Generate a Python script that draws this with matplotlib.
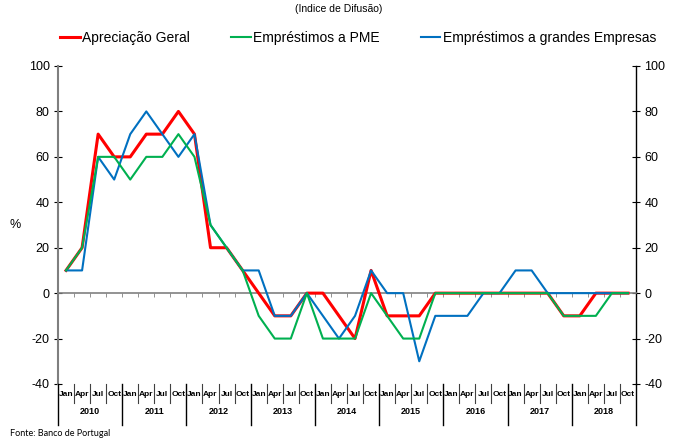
import matplotlib
matplotlib.use('Agg')
import matplotlib.pyplot as plt
import numpy as np
from matplotlib.lines import Line2D
from matplotlib.transforms import blended_transform_factory

# quarterly categories, 2010 Q1 .. 2018 Q4
YEARS = ['2010', '2011', '2012', '2013', '2014', '2015', '2016', '2017', '2018']
MONTHS = ['Jan', 'Apr', 'Jul', 'Oct']

GERAL = [10, 20, 70, 60, 60, 70, 70, 80, 70, 20, 20, 10,
         0, -10, -10, 0, 0, -10, -20, 10, -10, -10, -10, 0,
         0, 0, 0, 0, 0, 0, 0, -10, -10, 0, 0, 0]
PME = [10, 20, 60, 60, 50, 60, 60, 70, 60, 30, 20, 10,
       -10, -20, -20, 0, -20, -20, -20, 0, -10, -20, -20, 0,
       0, 0, 0, 0, 0, 0, 0, -10, -10, -10, 0, 0]
GRANDES = [10, 10, 60, 50, 70, 80, 70, 60, 70, 30, 20, 10,
           10, -10, -10, 0, -10, -20, -10, 10, 0, 0, -30, -10,
           -10, -10, 0, 0, 10, 10, 0, 0, 0, 0, 0, 0]

LABELS = ['Apreciação Geral', 'Empréstimos a PME',
          'Empréstimos a grandes Empresas']

plt.rcParams['font.family'] = ['Liberation Sans', 'DejaVu Sans']
plt.rcParams['axes.unicode_minus'] = False

W, H = 677, 443
fig = plt.figure(figsize=(W / 100, H / 100), dpi=100)
ax = fig.add_axes([58 / W, 1 - 384 / H, (636 - 58) / W, (384 - 66) / H])

x = np.arange(len(GERAL))
h1, = ax.plot(x, GERAL, color='#FF0000', linewidth=2.2, zorder=3)
h3, = ax.plot(x, GRANDES, color='#0070C0', linewidth=1.5, zorder=3)
h2, = ax.plot(x, PME, color='#00B050', linewidth=1.5, zorder=3)

ax.set_xlim(-0.5, len(GERAL) - 0.5)
ax.set_ylim(-40, 100)
ax.set_yticks(np.arange(-40, 101, 20))

# y axes on both sides
ax.spines['top'].set_visible(False)
ax.spines['left'].set_color('#7f7f7f')
ax.spines['left'].set_linewidth(1.5)
ax.spines['right'].set_color('black')
ax.spines['right'].set_linewidth(1.0)
ax.tick_params(axis='y', left=True, right=True, labelleft=True,
               labelright=True, direction='inout', length=6, width=0.8,
               labelsize=9, pad=3, colors='black')

# category axis crossing at zero
ax.spines['bottom'].set_position(('data', 0))
ax.spines['bottom'].set_color('#808080')
ax.spines['bottom'].set_linewidth(1.2)
ax.set_xticks([])
ax.set_xticks(np.arange(-0.5, len(GERAL), 1), minor=True)
ax.tick_params(axis='x', which='minor', direction='out', length=3,
               color='#808080', labelbottom=False)

ax.text(-0.075, 0.5, '%', transform=ax.transAxes, fontsize=9,
        ha='center', va='center')

# multi-level category labels below the plot
tr = blended_transform_factory(ax.transData, fig.transFigure)
y_top = 1 - 384 / H
y_q = 1 - 403 / H
y_y = 1 - 425 / H
for i in range(len(GERAL)):
    ax.text(i, 1 - 394 / H, MONTHS[i % 4], transform=tr, ha='center',
            va='center', fontsize=6, fontweight='bold')
for b in range(len(GERAL) + 1):
    bottom = y_y if b % 4 == 0 else y_q
    fig.add_artist(Line2D([b - 0.5, b - 0.5], [y_top, bottom], transform=tr,
                          color='black' if b % 4 == 0 else '#404040',
                          linewidth=1.0 if b % 4 == 0 else 0.8))
for k, yr in enumerate(YEARS):
    ax.text(4 * k + 1.5, 1 - 411.5 / H, yr, transform=tr, ha='center',
            va='center', fontsize=6.5, fontweight='bold')

fig.text(339 / W, 1 - 9 / H, '(Indice de Difusão)', ha='center',
         va='center', fontsize=7.5)
fig.legend([h1, h2, h3], LABELS, loc='center', ncol=3, frameon=False,
           bbox_to_anchor=(358 / W, 1 - 38 / H), fontsize=10,
           handlelength=1.4, handletextpad=0.15, columnspacing=3.0)
fig.text(10 / W, 1 - 434 / H, 'Fonte: Banco de Portugal', ha='left',
         va='center', fontsize=6.5, family=['Lato', 'DejaVu Sans'])

fig.savefig('out.png', dpi=100)
